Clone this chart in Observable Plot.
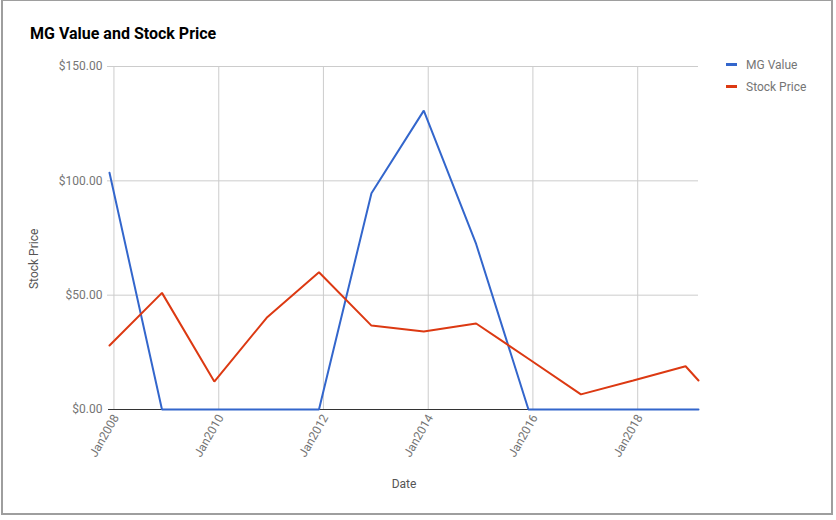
<!DOCTYPE html>
<html>
<head>
<meta charset="utf-8">
<script src="https://cdn.jsdelivr.net/npm/d3@7"></script>
<script src="https://cdn.jsdelivr.net/npm/@observablehq/plot@0.6"></script>
<style>
  html, body { margin: 0; padding: 0; background: #fff; }
  #wrap { position: relative; width: 836px; height: 520px; overflow: hidden; font-family: Roboto, sans-serif; }
  #frame { position: absolute; left: 1px; top: -1px; width: 828px; height: 512px; border: 2px solid #9e9e9e; pointer-events: none; }
  #title { position: absolute; left: 30px; top: 25.8px; font-size: 16px; line-height: 16px; font-weight: bold; color: #000; white-space: nowrap; }
  .leg { position: absolute; left: 726px; height: 12px; font-size: 12px; line-height: 12px; color: #757575; white-space: nowrap; }
  .leg .sw { position: absolute; left: 0; width: 11px; height: 3px; }
  .leg .lab { position: absolute; left: 20px; top: 0; }
  #chart { position: absolute; left: 0; top: 0; }
</style>
</head>
<body>
<div id="wrap">
  <div id="chart"></div>
  <div id="title"></div>
  <div id="legend"></div>
  <div id="frame"></div>
</div>
<script>
// ---- data ----
const dates = ["2007-12-01","2008-12-01","2009-12-01","2010-12-01","2011-12-01","2012-12-01",
               "2013-12-01","2014-12-01","2015-12-01","2016-12-01","2017-12-01","2018-12-01","2019-03-01"];
const mgValue    = [103.5, 0, 0, 0, 0, 94.6, 130.7, 72.4, 0, 0, 0, 0, 0];
const stockPrice = [28.0, 51.0, 12.2, 40.1, 60.0, 36.7, 34.1, 37.6, 22.2, 6.6, 12.7, 18.9, 12.7];
const seriesNames  = ["MG Value", "Stock Price"];
const seriesColors = ["#3366cc", "#dc3912"];
const yTicks = [0, 50, 100, 150];
const xTickYears = [2008, 2010, 2012, 2014, 2016, 2018];
const titleText = "MG Value and Stock Price";
const xLabel = "Date";
const yLabel = "Stock Price";

// ---- build tables ----
const parsed = dates.map(d => new Date(d + "T00:00:00Z"));
const seriesValues = [mgValue, stockPrice];
const rows = [];
seriesNames.forEach((s, i) => parsed.forEach((d, j) => rows.push({date: d, value: seriesValues[i][j], series: s})));
const xTicks = xTickYears.map(y => new Date(Date.UTC(y, 0, 1)));

const chart = Plot.plot({
  width: 836,
  height: 520,
  marginTop: 66,
  marginBottom: 111,
  marginLeft: 109,
  marginRight: 138,
  style: {fontFamily: "Roboto, sans-serif", fontSize: "12px", color: "#757575", background: "transparent", overflow: "visible"},
  x: {type: "utc", domain: [parsed[0], parsed[parsed.length - 1]]},
  y: {domain: [0, 150]},
  color: {domain: seriesNames, range: seriesColors},
  marks: [
    Plot.gridX(xTicks, {stroke: "#cccccc", strokeOpacity: 1}),
    Plot.gridY(yTicks.filter(t => t > 0), {stroke: "#cccccc", strokeOpacity: 1, insetLeft: -2}),
    Plot.ruleY([0], {stroke: "#333333", strokeWidth: 1.2, insetLeft: -1}),
    Plot.line(rows, {x: "date", y: "value", z: "series", stroke: "series", strokeWidth: 2, strokeLinejoin: "miter"}),
    Plot.axisY({ticks: yTicks, tickFormat: d => "$" + d.toFixed(2), tickSize: 0, tickPadding: 7, label: null, fill: "#757575"}),
    Plot.axisX({ticks: xTicks, tickFormat: d => "Jan" + d.getUTCFullYear(), tickSize: 0, tickPadding: 6, tickRotate: -60, dx: 2, label: null, fill: "#757575"}),
    Plot.text([yLabel], {frameAnchor: "left", dx: -75, dy: 51, rotate: -90, fill: "#555555", fontSize: 12}),
    Plot.text([xLabel], {frameAnchor: "bottom", dy: 78, fill: "#555555", fontSize: 12})
  ]
});
document.getElementById("chart").appendChild(chart);

document.getElementById("title").textContent = titleText;
const legend = document.getElementById("legend");
const legendBaselineTops = [58.9, 80.6];
seriesNames.forEach((s, i) => {
  const item = document.createElement("div");
  item.className = "leg";
  item.style.top = legendBaselineTops[i] + "px";
  const sw = document.createElement("div");
  sw.className = "sw";
  sw.style.background = seriesColors[i];
  sw.style.top = "4px";
  const lab = document.createElement("div");
  lab.className = "lab";
  lab.textContent = s;
  item.appendChild(sw);
  item.appendChild(lab);
  legend.appendChild(item);
});
</script>
</body>
</html>
